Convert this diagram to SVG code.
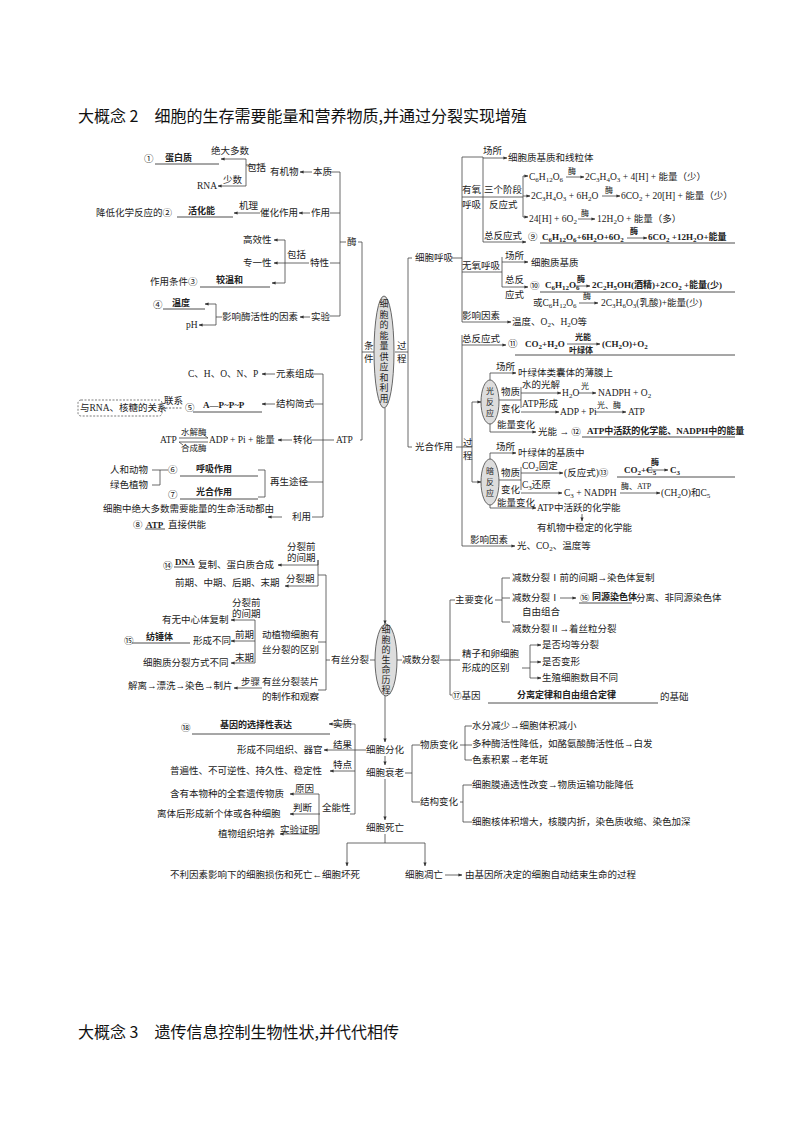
<svg xmlns="http://www.w3.org/2000/svg" width="794" height="1123" viewBox="0 0 794 1123">
<style>
text{font-family:"Liberation Serif","Noto Sans CJK SC",serif;font-size:9.5px;fill:#222}
.b{font-weight:bold;font-size:9px}
.h{font-family:"Noto Sans CJK SC",sans-serif;font-size:16px;fill:#111}
.s{font-size:7px}
.c{font-size:9px}
line,polyline,path{stroke:#444;stroke-width:0.8;fill:none}
.a{marker-end:url(#ar)}
.u{stroke:#222}
ellipse{fill:#ddd;stroke:#444;stroke-width:0.8}
</style>
<defs><marker id="ar" markerWidth="5" markerHeight="4" refX="4.5" refY="2" orient="auto"><path d="M0,0L5,2L0,4Z" style="fill:#333;stroke:none"/></marker></defs>
<rect width="794" height="1123" fill="#fff"/>
<text class="h" x="78" y="122">大概念 2　细胞的生存需要能量和营养物质,并通过分裂实现增殖</text>
<text class="h" x="78" y="1038">大概念 3　遗传信息控制生物性状,并代代相传</text>

<g id="connectors">
<polyline points="330,172 340,172 340,316 330,316"/>
<line x1="330" y1="213" x2="340" y2="213"/><line x1="330" y1="263" x2="340" y2="263"/>
<line x1="340" y1="242" x2="346" y2="242"/>
<polyline points="358,242 362,242 362,440 360,440"/>
<line x1="362" y1="352" x2="374" y2="352"/>
<line class="a" x1="312" y1="172" x2="300" y2="172"/>
<polyline class="a" points="265,165 246,165 246,159 221,159"/>
<polyline class="a" points="246,165 246,186 218,186"/>
<line class="a" x1="310" y1="213" x2="299" y2="213"/>
<line class="a" x1="260" y1="213" x2="234" y2="213"/>
<line class="a" x1="309" y1="263" x2="274" y2="263"/>
<polyline class="a" points="285,263 285,240 274,240"/>
<polyline class="a" points="285,263 285,283 272,283"/>
<line class="a" x1="310" y1="317" x2="300" y2="317"/>
<polyline class="a" points="222,317 216,317 216,304 205,304"/>
<polyline class="a" points="216,317 216,325 199,325"/>
<line class="u" x1="155" y1="164" x2="219" y2="164"/>
<line class="u" x1="177" y1="217" x2="233" y2="217"/>
<line class="u" x1="200" y1="287" x2="270" y2="287"/>
<line class="u" x1="163" y1="309" x2="205" y2="309"/>
<polyline points="312,374 323,374 323,517 312,517"/>
<line x1="312" y1="404" x2="323" y2="404"/><line x1="300" y1="482" x2="323" y2="482"/>
<line x1="310" y1="440" x2="334" y2="440"/>
<line class="a" x1="275" y1="374" x2="262" y2="374"/>
<line class="a" x1="275" y1="404" x2="262" y2="404"/>
<line class="a" x1="292" y1="440" x2="278" y2="440"/>
<line class="a" x1="282" y1="517" x2="268" y2="517"/>
<line class="u" x1="193" y1="412" x2="262" y2="412"/>
<line style="stroke-dasharray:2,1.5" x1="162" y1="408" x2="183" y2="408"/>
<polyline points="258,470 265,470 265,497 258,497"/>
<line class="u" x1="180" y1="476" x2="258" y2="476"/>
<line class="u" x1="180" y1="499" x2="258" y2="499"/>
<line x1="152" y1="470" x2="168" y2="470"/>
<polyline points="152,485 160,485 160,470 M160,485 160,495 168,495"/>
<line class="u" x1="145" y1="529" x2="165" y2="529"/>
<line x1="179" y1="438" x2="208" y2="438"/><line x1="179" y1="442" x2="208" y2="442"/>
<path d="M204,435 L208,438"/><path d="M183,445 L179,442"/>
<line x1="385" y1="408" x2="385" y2="624" class="a"/>
<line x1="385" y1="696" x2="385" y2="742" class="a"/>
<line x1="385" y1="756" x2="385" y2="765" class="a"/>
<line x1="385" y1="779" x2="385" y2="820" class="a"/>
<line x1="385" y1="834" x2="385" y2="843"/>
<polyline points="347,855 347,843 425,843 425,855"/>
<line class="a" x1="347" y1="855" x2="347" y2="866"/><line class="a" x1="425" y1="855" x2="425" y2="866"/>
<line x1="395" y1="352" x2="408" y2="352"/>
<polyline points="408,258 408,447 412,447"/>
<line x1="408" y1="258" x2="412" y2="258"/>
<line x1="452" y1="258" x2="462" y2="258"/>
<line x1="456" y1="447" x2="462" y2="447"/>
<line x1="462" y1="157" x2="462" y2="322"/>
<polyline points="462,157 483,157 483,242"/>
<line class="a" x1="483" y1="158" x2="507" y2="158"/>
<line x1="462" y1="197" x2="483" y2="197"/>
<line x1="462" y1="272" x2="502" y2="272"/>
<polyline points="483,197 523,197"/>
<polyline points="523,176 523,217"/>
<line class="a" x1="523" y1="176" x2="528" y2="176"/>
<line class="a" x1="523" y1="196" x2="530" y2="196"/>
<line class="a" x1="523" y1="217" x2="528" y2="217"/>
<line class="a" x1="483" y1="242" x2="526" y2="242"/>
<line class="u" x1="540" y1="243" x2="735" y2="243"/>
<polyline points="502,257 502,287"/>
<line class="a" x1="502" y1="262" x2="528" y2="262"/>
<line class="a" x1="502" y1="287" x2="528" y2="287"/>
<line class="u" x1="540" y1="292" x2="735" y2="292"/>
<line class="a" x1="462" y1="322" x2="511" y2="322"/>
<line x1="462" y1="335" x2="462" y2="546"/>
<line class="a" x1="462" y1="345" x2="506" y2="345"/>
<line class="u" x1="515" y1="355" x2="735" y2="355"/>
<line class="a" x1="462" y1="546" x2="515" y2="546"/>
<line x1="462" y1="447" x2="472" y2="447"/>
<polyline points="472,402 472,482"/>
<line class="a" x1="472" y1="402" x2="481" y2="402"/>
<line class="a" x1="472" y1="482" x2="481" y2="482"/>
<polyline class="a" points="490,380 490,373 516,373"/>
<polyline points="521,387 521,408"/>
<line class="a" x1="521" y1="393" x2="561" y2="393"/>
<line class="a" x1="521" y1="412" x2="559" y2="412"/>
<line x1="499" y1="400" x2="521" y2="400"/>
<polyline class="a" points="490,424 490,432 536,432"/>
<line class="u" x1="582" y1="437" x2="735" y2="437"/>
<polyline class="a" points="490,459 490,453 516,453"/>
<polyline points="521,467 521,490"/>
<line x1="499" y1="480" x2="521" y2="480"/>
<line class="a" x1="521" y1="473" x2="563" y2="473"/>
<line class="a" x1="521" y1="493" x2="562" y2="493"/>
<line class="u" x1="617" y1="477" x2="735" y2="477"/>
<polyline class="a" points="490,505 490,508 536,508"/>
<line class="a" x1="582" y1="514" x2="582" y2="521"/>
<line class="a" x1="566" y1="177" x2="584" y2="177"/>
<line class="a" x1="602" y1="196" x2="620" y2="196"/>
<line class="a" x1="578" y1="219" x2="595" y2="219"/>
<line class="a" x1="627" y1="238" x2="647" y2="238"/>
<line class="a" x1="574" y1="286" x2="590" y2="286"/>
<line class="a" x1="579" y1="303" x2="598" y2="303"/>
<line class="a" x1="567" y1="344" x2="600" y2="344"/>
<line class="a" x1="578" y1="393" x2="596" y2="393"/>
<line class="a" x1="595" y1="412" x2="626" y2="412"/>
<line class="a" x1="646" y1="470" x2="668" y2="470"/>
<line class="a" x1="620" y1="493" x2="660" y2="493"/>
<line x1="370" y1="660" x2="375" y2="660"/>
<polyline points="326,575 326,690 318,690"/>
<line x1="318" y1="642" x2="326" y2="642"/>
<line x1="326" y1="660" x2="330" y2="660"/>
<polyline class="a" points="318,560 318,565 278,565"/>
<polyline points="318,560 318,586"/>
<line class="a" x1="318" y1="586" x2="285" y2="586"/>
<line x1="318" y1="575" x2="326" y2="575"/>
<polyline points="255,620 255,663"/>
<line class="a" x1="255" y1="620" x2="231" y2="620"/>
<line class="a" x1="255" y1="641" x2="231" y2="641"/>
<line class="a" x1="255" y1="663" x2="231" y2="663"/>
<line class="u" x1="132" y1="643" x2="190" y2="643"/>
<line class="u" x1="174" y1="567" x2="195" y2="567"/>
<line class="a" x1="262" y1="688" x2="234" y2="688"/>
<line x1="397" y1="660" x2="402" y2="660"/>
<line x1="440" y1="660" x2="450" y2="660"/>
<polyline points="455,600 450,600 450,695 452,695"/>
<line x1="450" y1="660" x2="460" y2="660"/>
<line x1="495" y1="600" x2="502" y2="600"/>
<polyline points="510,578 502,578 502,622 510,622"/>
<line x1="502" y1="598" x2="510" y2="598"/>
<line class="a" x1="560" y1="598" x2="576" y2="598"/>
<line class="u" x1="579" y1="603" x2="632" y2="603"/>
<polyline points="522,668 530,668"/>
<polyline points="530,645 530,678"/>
<line class="a" x1="530" y1="645" x2="541" y2="645"/>
<line class="a" x1="530" y1="662" x2="541" y2="662"/>
<line class="a" x1="530" y1="678" x2="541" y2="678"/>
<line class="u" x1="488" y1="703" x2="658" y2="703"/>
<polyline points="332,724 355,724 355,814 350,814"/>
<line class="a" x1="332" y1="724" x2="329" y2="724"/>
<line class="u" x1="192" y1="734" x2="330" y2="734"/>
<line x1="355" y1="750" x2="366" y2="750"/>
<line class="a" x1="355" y1="750" x2="324" y2="750"/>
<line class="a" x1="355" y1="771" x2="330" y2="771"/>
<polyline points="319,794 319,834"/>
<line class="a" x1="319" y1="794" x2="290" y2="794"/>
<line class="a" x1="320" y1="814" x2="290" y2="814"/>
<line class="a" x1="319" y1="834" x2="280" y2="834"/>
<line x1="405" y1="773" x2="412" y2="773"/>
<polyline points="420,745 412,745 412,802 420,802"/>
<polyline points="472,726 465,726 465,760 472,760"/>
<line x1="460" y1="745" x2="472" y2="745"/>
<polyline points="472,785 463,785 463,822 472,822"/>
<line x1="460" y1="802" x2="463" y2="802"/>
<line class="a" x1="445" y1="875" x2="462" y2="875"/>
</g>

<g id="n-center1"><ellipse cx="384" cy="352" rx="10" ry="56"/>
<text class="c" x="379.5" y="307">细</text><text class="c" x="379.5" y="317.5">胞</text><text class="c" x="379.5" y="328">的</text><text class="c" x="379.5" y="338.5">能</text><text class="c" x="379.5" y="349">量</text><text class="c" x="379.5" y="359.5">供</text><text class="c" x="379.5" y="370">应</text><text class="c" x="379.5" y="380.5">和</text><text class="c" x="379.5" y="391">利</text><text class="c" x="379.5" y="401.5">用</text>
<text x="364" y="349">条</text><text x="364" y="362">件</text><text x="397" y="349">过</text><text x="397" y="362">程</text></g>
<g id="n-center2"><ellipse cx="386" cy="660" rx="11" ry="36"/>
<text class="c" x="381.5" y="633">细</text><text class="c" x="381.5" y="643">胞</text><text class="c" x="381.5" y="653">的</text><text class="c" x="381.5" y="663">生</text><text class="c" x="381.5" y="673">命</text><text class="c" x="381.5" y="683">历</text><text class="c" x="381.5" y="693">程</text></g>

<g id="n-enzyme">
<text x="144" y="162">①</text><text class="b" x="165" y="161">蛋白质</text>
<text x="211" y="154">绝大多数</text><text x="197" y="189">RNA</text><text x="223" y="183">少数</text>
<text x="247" y="171">包括</text><text x="270" y="175">有机物</text><text x="313" y="175">本质</text>
<text x="96" y="216">降低化学反应的②</text><text class="b" x="188" y="214">活化能</text>
<text x="239" y="209">机理</text><text x="260" y="216">催化作用</text><text x="311" y="216">作用</text>
<text x="347" y="245">酶</text>
<text x="243" y="243">高效性</text><text x="243" y="266">专一性</text><text x="287" y="258">包括</text><text x="310" y="266">特性</text>
<text x="150" y="285">作用条件③</text><text class="b" x="216" y="283">较温和</text>
<text x="153" y="308">④</text><text class="b" x="172" y="306">温度</text><text x="186" y="328">pH</text>
<text x="222" y="320">影响酶活性的因素</text><text x="311" y="320">实验</text>
</g>
<g id="n-atp">
<text x="188" y="377">C、H、O、N、P</text><text x="276" y="377">元素组成</text>
<rect x="78" y="400" width="84" height="16" rx="3" fill="none" stroke="#444" stroke-width="0.7" stroke-dasharray="2,1.5"/>
<text x="80" y="411">与RNA、核糖的关系</text><text x="164" y="404">联系</text><text x="185" y="411">⑤</text>
<text class="b" x="203" y="408">A—P~P~P</text><text x="276" y="407">结构简式</text>
<text x="160" y="443">ATP</text><text x="181" y="435" style="font-size:8.5px">水解酶</text><text x="181" y="451" style="font-size:8.5px">合成酶</text>
<text x="209" y="443">ADP + Pi + 能量</text><text x="293" y="443">转化</text><text x="336" y="443">ATP</text>
<text x="110" y="473">人和动物</text><text x="110" y="488">绿色植物</text>
<text x="168" y="473">⑥</text><text class="b" x="196" y="472">呼吸作用</text>
<text x="168" y="498">⑦</text><text class="b" x="196" y="495">光合作用</text>
<text x="270" y="485">再生途径</text>
<text x="103" y="512">细胞中绝大多数需要能量的生命活动都由</text><text x="292" y="520">利用</text>
<text x="133" y="528">⑧ </text><text x="146" y="528" class="b">ATP</text><text x="168" y="528">直接供能</text>
</g>
<g id="n-resp">
<text x="415" y="261">细胞呼吸</text>
<text x="483" y="154">场所</text><text x="508" y="161">细胞质基质和线粒体</text>
<text x="462" y="193">有氧</text><text x="462" y="208">呼吸</text><text x="484" y="193">三个阶段</text><text x="489" y="208">反应式</text>
<text x="529" y="180">C<tspan class="s" dy="2">6</tspan><tspan dy="-2">H</tspan><tspan class="s" dy="2">12</tspan><tspan dy="-2">O</tspan><tspan class="s" dy="2">6</tspan></text><text x="568" y="174" style="font-size:8px">酶</text><text x="585" y="180">2C<tspan class="s" dy="2">3</tspan><tspan dy="-2">H</tspan><tspan class="s" dy="2">4</tspan><tspan dy="-2">O</tspan><tspan class="s" dy="2">3</tspan><tspan dy="-2"> + 4[H] + 能量（少）</tspan></text>
<text x="531" y="199">2C<tspan class="s" dy="2">3</tspan><tspan dy="-2">H</tspan><tspan class="s" dy="2">4</tspan><tspan dy="-2">O</tspan><tspan class="s" dy="2">3</tspan><tspan dy="-2"> + 6H</tspan><tspan class="s" dy="2">2</tspan><tspan dy="-2">O</tspan></text><text x="605" y="193" style="font-size:8px">酶</text><text x="621" y="199">6CO<tspan class="s" dy="2">2</tspan><tspan dy="-2"> + 20[H] + 能量（少）</tspan></text>
<text x="529" y="222">24[H] + 6O<tspan class="s" dy="2">2</tspan></text><text x="581" y="216" style="font-size:8px">酶</text><text x="597" y="222">12H<tspan class="s" dy="2">2</tspan><tspan dy="-2">O + 能量（多）</tspan></text>
<text x="484" y="239">总反应式</text><text x="528" y="240">⑨</text>
<text class="b" x="542" y="240">C<tspan class="s" dy="2">6</tspan><tspan dy="-2">H</tspan><tspan class="s" dy="2">12</tspan><tspan dy="-2">O</tspan><tspan class="s" dy="2">6</tspan><tspan dy="-2">+6H</tspan><tspan class="s" dy="2">2</tspan><tspan dy="-2">O+6O</tspan><tspan class="s" dy="2">2</tspan></text><text class="b" x="630" y="234" style="font-size:8px">酶</text><text class="b" x="648" y="240">6CO<tspan class="s" dy="2">2</tspan><tspan dy="-2"> +12H</tspan><tspan class="s" dy="2">2</tspan><tspan dy="-2">O+能量</tspan></text>
<text x="462" y="269">无氧呼吸</text><text x="505" y="259">场所</text><text x="531" y="266">细胞质基质</text>
<text x="505" y="283">总反</text><text x="505" y="298">应式</text><text x="530" y="289">⑩</text>
<text class="b" x="545" y="288">C<tspan class="s" dy="2">6</tspan><tspan dy="-2">H</tspan><tspan class="s" dy="2">12</tspan><tspan dy="-2">O</tspan><tspan class="s" dy="2">6</tspan></text><text class="b" x="577" y="282" style="font-size:8px">酶</text><text class="b" x="592" y="288">2C<tspan class="s" dy="2">2</tspan><tspan dy="-2">H</tspan><tspan class="s" dy="2">5</tspan><tspan dy="-2">OH(酒精)+2CO</tspan><tspan class="s" dy="2">2</tspan><tspan dy="-2"> +能量(少)</tspan></text>
<text x="533" y="306">或C<tspan class="s" dy="2">6</tspan><tspan dy="-2">H</tspan><tspan class="s" dy="2">12</tspan><tspan dy="-2">O</tspan><tspan class="s" dy="2">6</tspan></text><text x="583" y="299" style="font-size:8px">酶</text><text x="601" y="306">2C<tspan class="s" dy="2">3</tspan><tspan dy="-2">H</tspan><tspan class="s" dy="2">6</tspan><tspan dy="-2">O</tspan><tspan class="s" dy="2">3</tspan><tspan dy="-2">(乳酸)+能量(少)</tspan></text>
<text x="462" y="319">影响因素</text><text x="512" y="325">温度、O<tspan class="s" dy="2">2</tspan><tspan dy="-2">、H</tspan><tspan class="s" dy="2">2</tspan><tspan dy="-2">O等</tspan></text>
</g>
<g id="n-photo">
<text x="415" y="450">光合作用</text>
<text x="462" y="342">总反应式</text><text x="508" y="347">⑪</text>
<text class="b" x="525" y="347">CO<tspan class="s" dy="2">2</tspan><tspan dy="-2">+H</tspan><tspan class="s" dy="2">2</tspan><tspan dy="-2">O</tspan></text><text class="b" x="575" y="340" style="font-size:8px">光能</text><text class="b" x="569" y="353" style="font-size:8px">叶绿体</text><text class="b" x="602" y="347">(CH<tspan class="s" dy="2">2</tspan><tspan dy="-2">O)+O</tspan><tspan class="s" dy="2">2</tspan></text>
<text x="463" y="446">过</text><text x="463" y="459">程</text>
<ellipse cx="490" cy="402" rx="9" ry="22" fill="#fff"/>
<text x="486" y="394" style="font-size:8px">光</text><text x="486" y="405" style="font-size:8px">反</text><text x="486" y="416" style="font-size:8px">应</text>
<text x="496" y="370">场所</text><text x="518" y="376">叶绿体类囊体的薄膜上</text>
<text x="501" y="395">物质</text><text x="501" y="412">变化</text>
<text x="522" y="388">水的光解</text><text x="562" y="396">H<tspan class="s" dy="2">2</tspan><tspan dy="-2">O</tspan></text><text x="581" y="389" style="font-size:8px">光</text><text x="598" y="396">NADPH + O<tspan class="s" dy="2">2</tspan></text>
<text x="522" y="407">ATP形成</text><text x="560" y="415">ADP + Pi</text><text x="597" y="408" style="font-size:8px">光、酶</text><text x="628" y="415">ATP</text>
<text x="497" y="428">能量变化</text><text x="538" y="435">光能 → ⑫</text>
<text class="b" x="587" y="434">ATP中活跃的化学能、NADPH中的能量</text>
<ellipse cx="490" cy="482" rx="9" ry="23" fill="#fff"/>
<text x="486" y="474" style="font-size:8px">暗</text><text x="486" y="485" style="font-size:8px">反</text><text x="486" y="496" style="font-size:8px">应</text>
<text x="496" y="450">场所</text><text x="518" y="456">叶绿体的基质中</text>
<text x="501" y="476">物质</text><text x="501" y="493">变化</text>
<text x="522" y="469">CO<tspan class="s" dy="2">2</tspan><tspan dy="-2">固定</tspan></text><text x="564" y="476">(反应式)⑬</text>
<text class="b" x="624" y="473">CO<tspan class="s" dy="2">2</tspan><tspan dy="-2">+C</tspan><tspan class="s" dy="2">5</tspan></text><text class="b" x="651" y="465" style="font-size:8px">酶</text><text class="b" x="670" y="473">C<tspan class="s" dy="2">3</tspan></text>
<text x="522" y="488">C<tspan class="s" dy="2">3</tspan><tspan dy="-2">还原</tspan></text><text x="564" y="496">C<tspan class="s" dy="2">3</tspan><tspan dy="-2"> + NADPH</tspan></text><text x="621" y="489" style="font-size:8px">酶、ATP</text><text x="661" y="496">(CH<tspan class="s" dy="2">2</tspan><tspan dy="-2">O)和C</tspan><tspan class="s" dy="2">5</tspan></text>
<text x="497" y="506">能量变化</text><text x="537" y="511">ATP中活跃的化学能</text>
<text x="537" y="531">有机物中稳定的化学能</text>
<text x="470" y="543">影响因素</text><text x="517" y="549">光、CO<tspan class="s" dy="2">2</tspan><tspan dy="-2">、温度等</tspan></text>
</g>
<g id="n-mitosis">
<text x="287" y="550">分裂前</text><text x="287" y="561">的间期</text>
<text x="163" y="569">⑭</text><text class="b" x="175" y="565">DNA</text><text x="198" y="568">复制、蛋白质合成</text>
<text x="286" y="582">分裂期</text><text x="175" y="586">前期、中期、后期、末期</text>
<text x="232" y="606">分裂前</text><text x="232" y="617">的间期</text><text x="162" y="623">有无中心体复制</text>
<text x="124" y="644">⑮</text><text class="b" x="146" y="640">纺锤体</text><text x="193" y="644">形成不同</text>
<text x="235" y="638">前期</text><text x="143" y="666">细胞质分裂方式不同</text><text x="235" y="661">末期</text>
<text x="262" y="638">动植物细胞有</text><text x="262" y="653">丝分裂的区别</text>
<text x="331" y="663">有丝分裂</text>
<text x="128" y="689">解离→漂洗→染色→制片</text>
<text x="241" y="685">步骤</text><text x="262" y="685">有丝分裂装片</text><text x="262" y="700">的制作和观察</text>
</g>
<g id="n-meiosis">
<text x="402" y="663">减数分裂</text><text x="455" y="603">主要变化</text>
<text x="512" y="581">减数分裂Ⅰ前的间期→染色体复制</text>
<text x="512" y="601">减数分裂Ⅰ</text><text x="580" y="601">⑯</text><text class="b" x="592" y="600">同源染色体</text><text x="636" y="601">分离、非同源染色体</text>
<text x="522" y="615">自由组合</text>
<text x="512" y="632">减数分裂Ⅱ→着丝粒分裂</text>
<text x="462" y="657">精子和卵细胞</text><text x="462" y="671">形成的区别</text>
<text x="542" y="648">是否均等分裂</text><text x="542" y="665">是否变形</text><text x="542" y="681">生殖细胞数目不同</text>
<text x="452" y="699">⑰基因</text><text class="b" x="517" y="698">分离定律和自由组合定律</text><text x="660" y="700">的基础</text>
</g>
<g id="n-diff">
<text x="181" y="731">⑱</text><text class="b" x="220" y="728">基因的选择性表达</text><text x="333" y="727">实质</text>
<text x="237" y="753">形成不同组织、器官</text><text x="333" y="748">结果</text><text x="366" y="753">细胞分化</text>
<text x="170" y="774">普遍性、不可逆性、持久性、稳定性</text><text x="333" y="768">特点</text>
<text x="366" y="776">细胞衰老</text>
<text x="170" y="797">含有本物种的全套遗传物质</text><text x="295" y="792">原因</text>
<text x="157" y="817">离体后形成新个体或各种细胞</text><text x="293" y="811">判断</text><text x="322" y="811">全能性</text>
<text x="218" y="837">植物组织培养</text><text x="280" y="833">实验证明</text>
<text x="366" y="831">细胞死亡</text>
<text x="170" y="878">不利因素影响下的细胞损伤和死亡←细胞坏死</text>
<text x="405" y="878">细胞凋亡</text><text x="465" y="878">由基因所决定的细胞自动结束生命的过程</text>
</g>
<g id="n-aging">
<text x="420" y="748">物质变化</text><text x="420" y="805">结构变化</text>
<text x="472" y="729">水分减少→细胞体积减小</text>
<text x="472" y="747">多种酶活性降低，如酪氨酸酶活性低→白发</text>
<text x="472" y="763">色素积累→老年斑</text>
<text x="472" y="788">细胞膜通透性改变→物质运输功能降低</text>
<text x="472" y="825">细胞核体积增大，核膜内折，染色质收缩、染色加深</text>
</g>
</svg>
